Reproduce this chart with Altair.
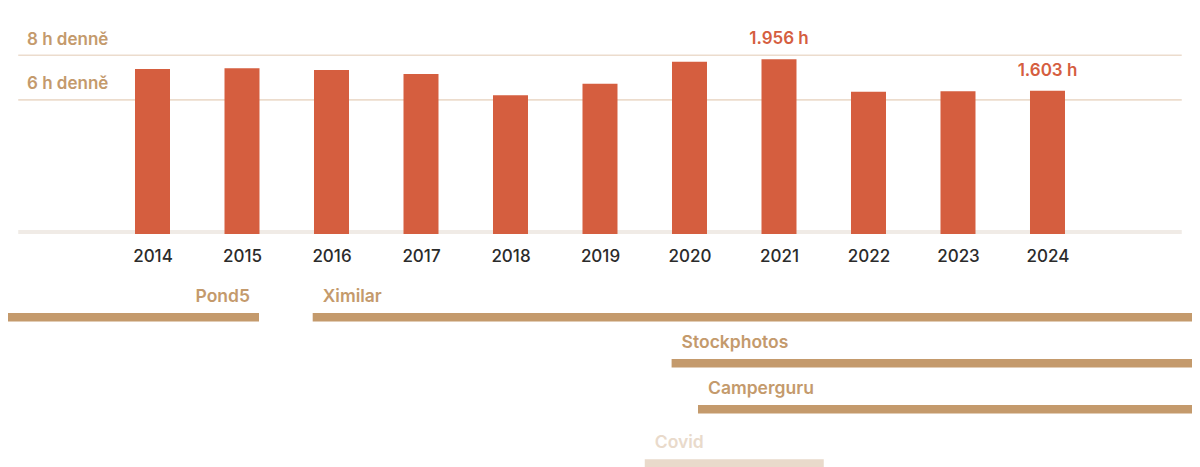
import altair as alt
import pandas as pd

# ---- data ----
years = [2014, 2015, 2016, 2017, 2018, 2019, 2020, 2021, 2022, 2023, 2024]
hours = [1846, 1853, 1834, 1790, 1551, 1681, 1927, 1956, 1592, 1596, 1603]
labelled_years = [2021, 2024]

ref_hours = [1500, 2000]
ref_labels = ["6 h denně", "8 h denně"]

tl_names = ["Pond5", "Ximilar", "Stockphotos", "Camperguru", "Covid"]
tl_start = [2012.0, 2015.79, 2019.80, 2020.095, 2019.50]
tl_end = [2015.19, 2026.5, 2026.5, 2026.5, 2021.50]
tl_lane = [1, 1, 2, 3, 4.18]
tl_side = ["end", "start", "start", "start", "start"]
tl_kind = ["job", "job", "job", "job", "event"]

# ---- styling ----
RED = "#d55e3f"
TAN = "#c49a6c"
GRID = "#ecdccd"
BASE = "#f0ebe6"
COVID_BAR = "#e9dacb"
COVID_TXT = "#ddd0c2"
FONT = "Inter"

W = 1184
H_TOP = 226
X_MIN, X_MAX = 2012.3855, 2025.6146
Y_MAX = 2528
xscale = alt.Scale(domain=[X_MIN, X_MAX], nice=False, zero=False, padding=0)

bars_df = pd.DataFrame({"year": years, "hours": hours})
bars_df["label"] = [
    (f"{h:,}".replace(",", ".") + " h") if y in labelled_years else ""
    for y, h in zip(years, hours)
]
ref_df = pd.DataFrame({"hours": ref_hours, "label": ref_labels,
                       "x0": 2012.5, "x1": 2025.5})
base_df = pd.DataFrame({"hours": [0], "x0": [2012.5], "x1": [2025.5]})

yscale = alt.Scale(domain=[0, Y_MAX], nice=False, zero=True)

ref_rules = alt.Chart(ref_df).mark_rule(color=GRID, strokeWidth=1.6).encode(
    x=alt.X("x0:Q", scale=xscale,
            axis=alt.Axis(values=years, format="d", title=None, domain=False,
                          ticks=False, tickSize=0, grid=False, labelPadding=14,
                          labelFont=FONT, labelFontSize=17, labelFontWeight=500,
                          labelColor="#2b2b2b")),
    x2="x1:Q",
    y=alt.Y("hours:Q", scale=yscale, axis=None),
)
ref_text = alt.Chart(ref_df).mark_text(
    align="left", baseline="middle", dy=-15.5, font=FONT, fontSize=17,
    fontWeight=600, color=TAN
).encode(x=alt.value(19), y=alt.Y("hours:Q", scale=yscale, axis=None), text="label:N")

base_rule = alt.Chart(base_df).mark_rule(color=BASE, strokeWidth=4, yOffset=-2).encode(
    x=alt.X("x0:Q", scale=xscale), x2="x1:Q",
    y=alt.Y("hours:Q", scale=yscale, axis=None),
)
bar_marks = alt.Chart(bars_df).mark_bar(color=RED, size=35).encode(
    x=alt.X("year:Q", scale=xscale),
    y=alt.Y("hours:Q", scale=yscale, axis=None),
)
bar_text = alt.Chart(bars_df).mark_text(
    baseline="middle", dy=-20, font=FONT, fontSize=17, fontWeight=600, color=RED
).encode(
    x=alt.X("year:Q", scale=xscale),
    y=alt.Y("hours:Q", scale=yscale, axis=None),
    text="label:N",
)

top = alt.layer(ref_rules, ref_text, base_rule, bar_marks, bar_text).properties(
    width=W, height=H_TOP
)

# ---- timeline ----
tl_df = pd.DataFrame({"name": tl_names, "start": tl_start, "end": tl_end,
                      "lane": tl_lane, "side": tl_side, "kind": tl_kind})
H_BOT = 205
LANE_TOP = 1 - 53.2 / 46
LANE_BOT = LANE_TOP + H_BOT / 46
lscale = alt.Scale(domain=[LANE_TOP, LANE_BOT], reverse=True, nice=False, zero=False)
cbar = alt.Scale(domain=["job", "event"], range=[TAN, COVID_BAR])
ctxt = alt.Scale(domain=["job", "event"], range=[TAN, COVID_TXT])

tl_rules = alt.Chart(tl_df).mark_rule(strokeWidth=8.5, strokeCap="butt", clip=True).encode(
    x=alt.X("start:Q", scale=xscale, axis=None),
    x2="end:Q",
    y=alt.Y("lane:Q", scale=lscale, axis=None),
    color=alt.Color("kind:N", scale=cbar, legend=None),
)
tl_text_start = alt.Chart(tl_df).transform_filter("datum.side == 'start'").mark_text(
    align="left", baseline="middle", dx=10, dy=-20, font=FONT, fontSize=17.5, fontWeight=600
).encode(
    x=alt.X("start:Q", scale=xscale, axis=None),
    y=alt.Y("lane:Q", scale=lscale, axis=None),
    text="name:N",
    color=alt.Color("kind:N", scale=ctxt, legend=None),
)
tl_text_end = alt.Chart(tl_df).transform_filter("datum.side == 'end'").mark_text(
    align="right", baseline="middle", dx=-9, dy=-20, font=FONT, fontSize=17.5, fontWeight=600
).encode(
    x=alt.X("end:Q", scale=xscale, axis=None),
    y=alt.Y("lane:Q", scale=lscale, axis=None),
    text="name:N",
    color=alt.Color("kind:N", scale=ctxt, legend=None),
)
bottom = alt.layer(tl_rules, tl_text_start, tl_text_end).properties(width=W, height=H_BOT)

chart = alt.vconcat(top, bottom, spacing=0).resolve_scale(
    y="independent", color="independent"
).properties(padding=0, background="white").configure_view(strokeWidth=0)

chart.save("out.html", embed_options={"renderer": "svg", "actions": False})
